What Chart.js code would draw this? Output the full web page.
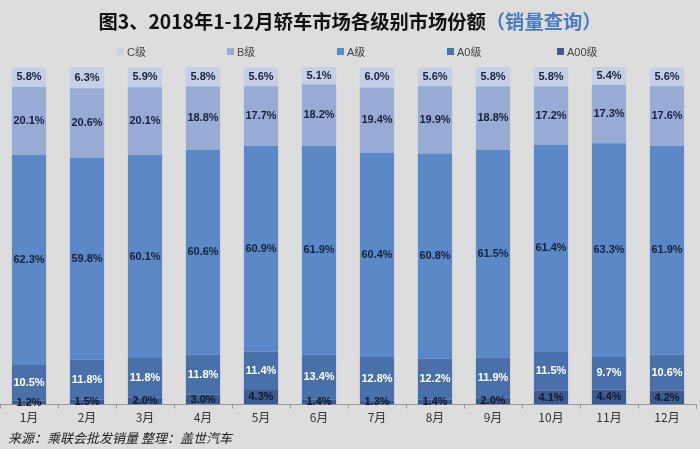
<!DOCTYPE html>
<html>
<head>
<meta charset="utf-8">
<script src="https://cdn.jsdelivr.net/npm/chart.js@4.4.0/dist/chart.umd.min.js"></script>
<style>
  body { margin: 0; background: #dddddd; }
  #wrap { position: relative; width: 700px; height: 449px; }
  #title { position: absolute; left: 0; top: 7px; width: 700px; text-align: center;
           font: bold 19.3px "Noto Sans CJK SC", sans-serif; color: #111; white-space: nowrap; }
  #title span { color: #4a7cc0; }
  #legend { position: absolute; left: 117px; top: 43px; display: flex; }
  #legend .item { width: 110px; display: flex; align-items: center;
                  font: 11px "Liberation Sans", "Noto Sans CJK SC", sans-serif; color: #444; }
  #legend .box { width: 7px; height: 7px; margin-right: 3px; }
  #source { position: absolute; left: 8px; top: 428px; font: italic 13px "Noto Sans CJK SC", sans-serif; color: #222; }
</style>
</head>
<body>
<div id="wrap">
  <canvas id="Chart1" width="700" height="449"></canvas>
  <div id="title">图3、2018年1-12月轿车市场各级别市场份额<span>（销量查询）</span></div>
  <div id="legend"></div>
  <div id="source">来源：乘联会批发销量 整理：盖世汽车</div>
</div>
<script>
// month categories
const months = ['1月', '2月', '3月', '4月', '5月', '6月', '7月', '8月', '9月', '10月', '11月', '12月'];

// share of each class, %
const classC   = [5.8, 6.3, 5.9, 5.8, 5.6, 5.1, 6.0, 5.6, 5.8, 5.8, 5.4, 5.6];
const classB   = [20.1, 20.6, 20.1, 18.8, 17.7, 18.2, 19.4, 19.9, 18.8, 17.2, 17.3, 17.6];
const classA   = [62.3, 59.8, 60.1, 60.6, 60.9, 61.9, 60.4, 60.8, 61.5, 61.4, 63.3, 61.9];
const classA0  = [10.5, 11.8, 11.8, 11.8, 11.4, 13.4, 12.8, 12.2, 11.9, 11.5, 9.7, 10.6];
const classA00 = [1.2, 1.5, 2.0, 3.0, 4.3, 1.4, 1.3, 1.4, 2.0, 4.1, 4.4, 4.2];

// draw value labels in the middle of each segment
const segmentLabels = {
    id: 'segmentLabels',
    afterDatasetsDraw(chart) {
        const ctx = chart.ctx;
        ctx.save();
        ctx.font = 'bold 11px "Liberation Sans", Arial, sans-serif';
        ctx.textAlign = 'center';
        ctx.textBaseline = 'middle';
        chart.data.datasets.forEach((ds, i) => {
            const meta = chart.getDatasetMeta(i);
            meta.data.forEach((bar, j) => {
                const y = (bar.y + bar.base) / 2;
                ctx.fillStyle = ds.labelColor;
                ctx.fillText(ds.data[j].toFixed(1) + '%', bar.x, y);
            });
        });
        ctx.restore();
    }
};

const ctx = document.getElementById('Chart1').getContext('2d');
const Chart1 = new Chart(ctx, {
    type: 'bar',
    data: {
        labels: months,
        datasets: [
            { label: 'A00级', data: classA00, backgroundColor: '#3d5b8e', labelColor: '#111827' },
            { label: 'A0级', data: classA0, backgroundColor: '#4a70a9', labelColor: '#ffffff' },
            { label: 'A级', data: classA, backgroundColor: '#5b88c6', labelColor: '#17203a' },
            { label: 'B级', data: classB, backgroundColor: '#97abd5', labelColor: '#17203a' },
            { label: 'C级', data: classC, backgroundColor: '#c5d0e8', labelColor: '#17203a' }
        ]
    },
    options: {
        responsive: false,
        animation: false,
        layout: { padding: { left: 0, right: 4, top: 67, bottom: 22 } },
        datasets: {
            bar: { categoryPercentage: 1, barPercentage: 0.59 }
        },
        plugins: {
            legend: { display: false },
            tooltip: { enabled: false }
        },
        scales: {
            x: {
                stacked: true,
                grid: { drawOnChartArea: false, drawTicks: true, tickLength: 4, color: '#9a9a9a' },
                border: { color: '#9a9a9a' },
                ticks: { color: '#333', font: { size: 12, family: '"Noto Sans CJK SC", sans-serif' }, padding: 2 }
            },
            y: {
                stacked: true,
                display: false,
                min: 0,
                max: 100
            }
        }
    },
    plugins: [segmentLabels]
});

// legend built from the chart's datasets, top class first
const legendBox = document.getElementById('legend');
Chart1.data.datasets.slice().reverse().forEach(ds => {
    const item = document.createElement('div');
    item.className = 'item';
    item.innerHTML = '<span class="box" style="background:' + ds.backgroundColor + '"></span>' + ds.label;
    legendBox.appendChild(item);
});
</script>
</body>
</html>
